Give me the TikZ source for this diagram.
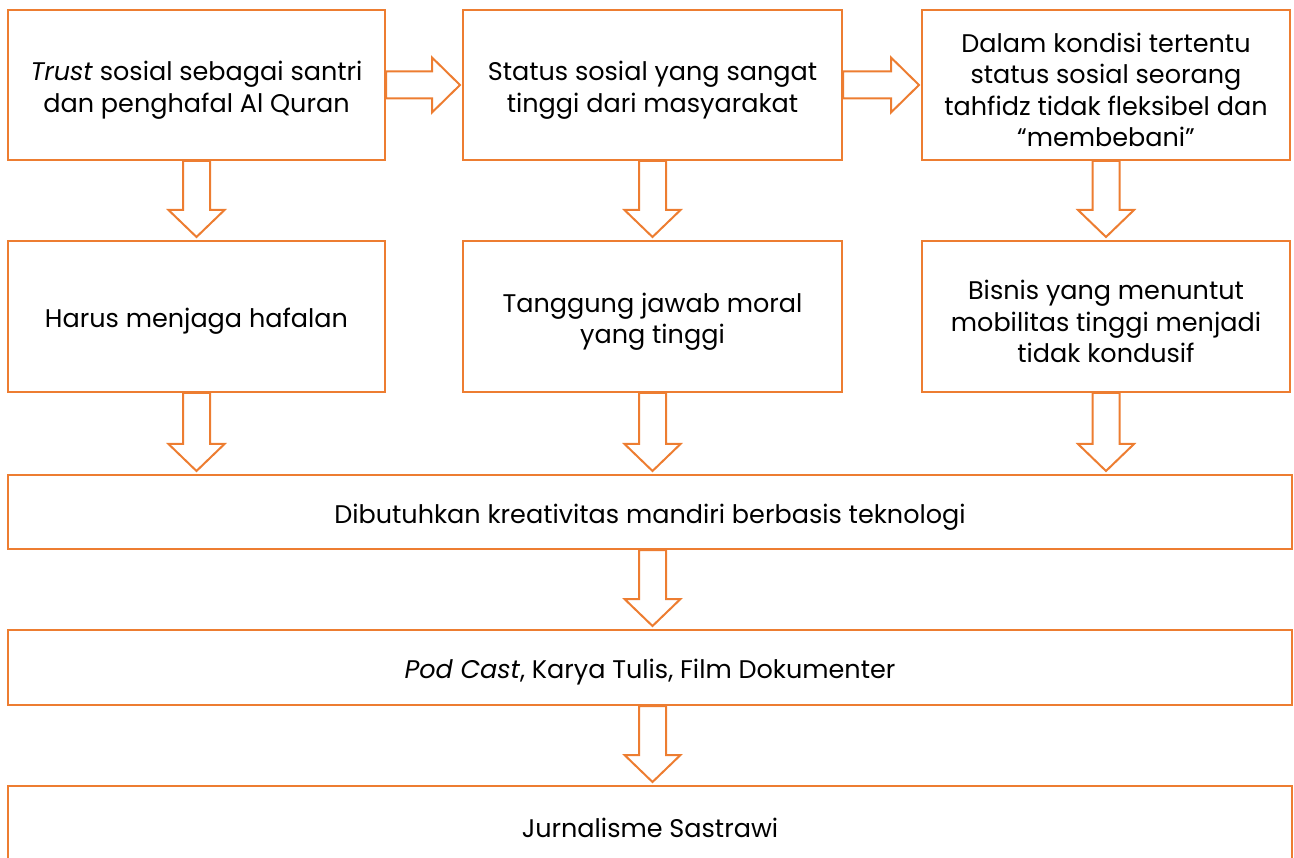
\documentclass[tikz,border=0pt]{standalone}
\usepackage{fontspec}
\setmainfont{Poppins}
\usetikzlibrary{calc}
\definecolor{org}{HTML}{ED7D31}
\newcommand\tp{\raisebox{10pt}{\vphantom{Tdfl}}}
\tikzset{
  box/.style={draw=org, line width=2pt, fill=white, inner sep=0pt, align=center, font=\fontsize{25.5}{31.5}\selectfont},
  arr/.style={draw=org, line width=2pt, fill=white, line join=miter},
}
\newcommand\blockdown[2]{%
  \draw[arr] ($(#1)+(-13.5,0)$) -- ($(#2)+(-13.5,-30)$) -- ($(#2)+(-28,-30)$) -- ($(#2)+(0,-3)$) -- ($(#2)+(28,-30)$) -- ($(#2)+(13.5,-30)$) -- ($(#1)+(13.5,0)$) -- cycle;}
\newcommand\blockright[2]{%
  \draw[arr] ($(#1)+(0,-13.5)$) -- ($(#2)+(-30,-13.5)$) -- ($(#2)+(-30,-27.5)$) -- ($(#2)+(-2,0)$) -- ($(#2)+(-30,27.5)$) -- ($(#2)+(-30,13.5)$) -- ($(#1)+(0,13.5)$) -- cycle;}
\begin{document}
\begin{tikzpicture}[x=1pt,y=-1pt]
\useasboundingbox (0,0) rectangle (1294,858);
% row 1
\node[box, minimum width=377pt, minimum height=150pt] (a1) at (196.5,85) {\tp\textit{Trust} sosial sebagai santri\\dan penghafal Al Quran};
\node[box, minimum width=379pt, minimum height=150pt] (b1) at (652.5,85) {\tp Status sosial yang sangat\\tinggi dari masyarakat};
\node[box, minimum width=368pt, minimum height=150pt] (c1) at (1106,85) {\tp Dalam kondisi tertentu\\status sosial seorang\\tahfidz tidak fleksibel dan\\``membebani''};
% row 2
\node[box, minimum width=377pt, minimum height=151pt] (a2) at (196.5,316.5) {\tp Harus menjaga hafalan};
\node[box, minimum width=379pt, minimum height=151pt] (b2) at (652.5,316.5) {\tp Tanggung jawab moral\\yang tinggi};
\node[box, minimum width=368pt, minimum height=151pt] (c2) at (1106,316.5) {\tp Bisnis yang menuntut\\mobilitas tinggi menjadi\\tidak kondusif};
% wide boxes
\node[box, minimum width=1284pt, minimum height=74pt] (d) at (650,512) {\tp Dibutuhkan kreativitas mandiri berbasis teknologi};
\node[box, minimum width=1284pt, minimum height=75pt] (e) at (650,667.5) {\tp\textit{Pod Cast}, Karya Tulis, Film Dokumenter};
\node[box, minimum width=1284pt, minimum height=74pt] (f) at (650,823) {\tp Jurnalisme Sastrawi};
% arrows
\blockright{a1.east}{b1.west}
\blockright{b1.east}{c1.west}
\blockdown{a1.south}{a2.north}
\blockdown{b1.south}{b2.north}
\blockdown{c1.south}{c2.north}
\blockdown{a2.south}{a2.south |- d.north}
\blockdown{b2.south}{b2.south |- d.north}
\blockdown{c2.south}{c2.south |- d.north}
\blockdown{d.south -| b2.south}{e.north -| b2.south}
\blockdown{e.south -| b2.south}{f.north -| b2.south}
\end{tikzpicture}
\end{document}
